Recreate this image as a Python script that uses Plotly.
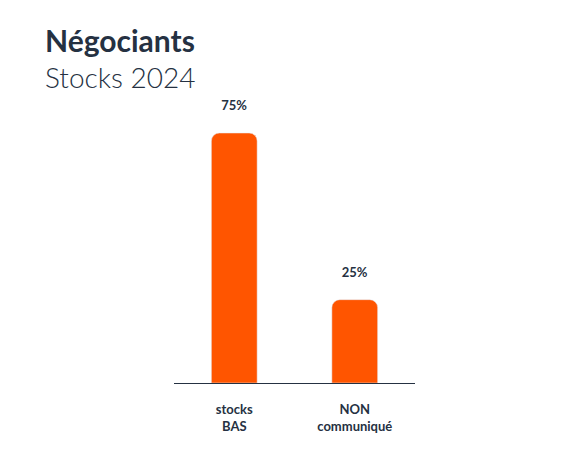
import plotly.graph_objects as go

categories = ["stocks<br>BAS", "NON<br>communiqué"]
values = [75, 25]
labels = ["75%", "25%"]

dark = "#253142"
fig = go.Figure(go.Bar(
    x=categories, y=values, text=[l + "<br> " for l in labels], textposition="outside",
    textfont=dict(family="Lato", size=13, color=dark, weight="bold"),
    marker=dict(color="#FF5500", cornerradius=8), width=0.38, cliponaxis=False,
))
fig.update_layout(
    width=588, height=464, plot_bgcolor="white", paper_bgcolor="white",
    margin=dict(l=166, r=181, t=92, b=89), showlegend=False,
    xaxis=dict(showline=True, linecolor=dark, linewidth=1, ticks="", ticklabelstandoff=14,
               tickfont=dict(family="Lato", size=13, color=dark, weight="bold")),
    yaxis=dict(visible=False, range=[0, 84.9]),
)
fig.add_annotation(text="<b>Négociants</b>", xref="paper", yref="paper", x=(35-166)/241, y=(375-32)/283,
                   xanchor="left", yanchor="middle", showarrow=False,
                   font=dict(family="Lato", size=30, color=dark))
fig.add_annotation(text="Stocks 2024", xref="paper", yref="paper", x=(35-166)/241, y=(375-69)/283,
                   xanchor="left", yanchor="middle", showarrow=False,
                   font=dict(family="Lato", size=28, color=dark, weight=300))
fig.write_html("out.html")
